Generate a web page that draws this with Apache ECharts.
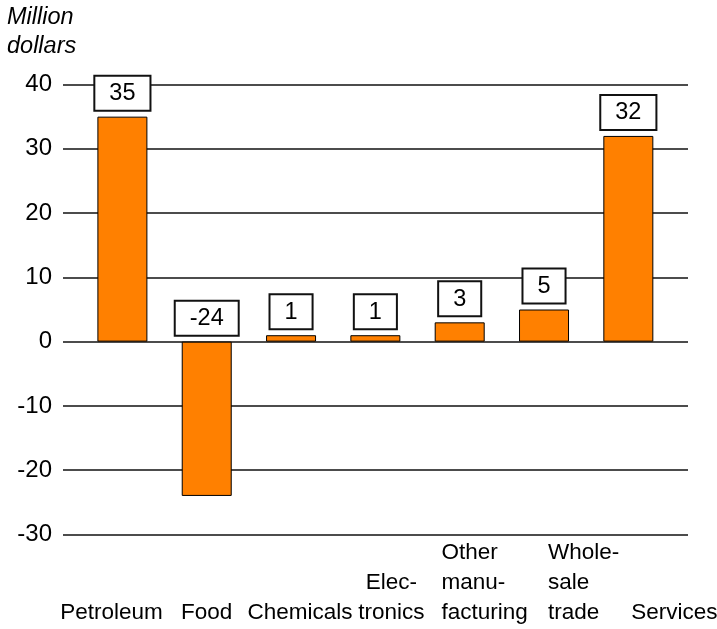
<!DOCTYPE html>
<html><head><meta charset="utf-8">
<script src="https://cdn.jsdelivr.net/npm/echarts@6/dist/echarts.min.js"></script>
<style>html,body{margin:0;padding:0;background:#fff}#c{width:717px;height:629px}</style>
</head><body><div id="c"></div>
<script>
// ---- data ----
const categories = ['Petroleum', 'Food', 'Chemicals', 'Elec-\ntronics', 'Other\nmanu-\nfacturing', 'Whole-\nsale\ntrade', 'Services'];
const values = [35, -24, 1, 1, 3, 5, 32];
const yMin = -30, yMax = 40, yStep = 10;
const unitTitle = 'Million\ndollars';

// ---- styling ----
const FONT = '"Liberation Sans", Arial, sans-serif';
const labelNudge = [
  { padding: [0, 22, 0, 0] },
  {},
  { padding: [0, 0, 0, 18] },
  { padding: [0, 0, 0, 32] },
  { padding: [0, 0, 0, 50] },
  { align: 'left', padding: [0, 0, 0, 4] },
  { padding: [0, 0, 0, 92] }
];
const leftAlignedBlocks = [4];
const LABEL_LINES = 3;

const chart = echarts.init(document.getElementById('c'), null, { renderer: 'canvas' });
const gridTop = 84.5, gridBottom = 94.5;

function fmt(v, i) {
  const lines = v.split('\n');
  const body = leftAlignedBlocks.includes(i) ? lines.map(s => '{l|' + s + '}') : lines;
  const pad = [];
  for (let k = lines.length; k < LABEL_LINES; k++) pad.push(' ');
  return pad.concat(body).join('\n');
}

chart.setOption({
  animation: false,
  backgroundColor: '#fff',
  title: {
    text: unitTitle, left: 7, top: 3, padding: 0,
    textStyle: { fontFamily: FONT, fontStyle: 'italic', fontWeight: 'normal', fontSize: 23.5, lineHeight: 29, color: '#000' }
  },
  grid: [
    { left: 63, right: 29, top: gridTop, bottom: gridBottom, containLabel: false, outerBoundsMode: 'none' },
    { left: 80.24, right: 46.5, top: gridTop, bottom: gridBottom, containLabel: false, outerBoundsMode: 'none' }
  ],
  xAxis: [
    { gridIndex: 0, type: 'value', show: false, min: 0, max: 1 },
    {
      gridIndex: 1, type: 'category',
      data: categories.map((c, i) => Object.assign({ value: c }, Object.keys(labelNudge[i]).length ? { textStyle: labelNudge[i] } : {})),
      axisLine: { show: false, onZero: false },
      axisTick: { show: false },
      axisLabel: {
        interval: 0, hideOverlap: false, margin: 3,
        fontFamily: FONT, fontSize: 22.5, lineHeight: 30, color: '#000',
        formatter: fmt,
        rich: { l: { align: 'left', fontFamily: FONT, fontSize: 22.5, lineHeight: 30, color: '#000' } }
      }
    }
  ],
  yAxis: [
    {
      gridIndex: 0, type: 'value', min: yMin, max: yMax, interval: yStep,
      axisLine: { show: false }, axisTick: { show: false },
      axisLabel: { margin: 11, fontFamily: FONT, fontSize: 24, color: '#000' },
      splitLine: { show: true, lineStyle: { color: '#111', width: 1.5 } }
    },
    { gridIndex: 1, type: 'value', min: yMin, max: yMax, interval: yStep, show: false, splitLine: { show: false } }
  ],
  series: [{
    type: 'bar', xAxisIndex: 1, yAxisIndex: 1,
    data: values, barWidth: 50,
    itemStyle: { color: '#FF8000', borderColor: '#000', borderWidth: 1 },
    label: {
      show: true, position: 'top', distance: 7,
      backgroundColor: '#fff', borderColor: '#111', borderWidth: 2,
      padding: [5, 14, 4, 14],
      fontFamily: FONT, fontSize: 23.5, lineHeight: 24, color: '#000'
    }
  }]
});
</script>
</body></html>
